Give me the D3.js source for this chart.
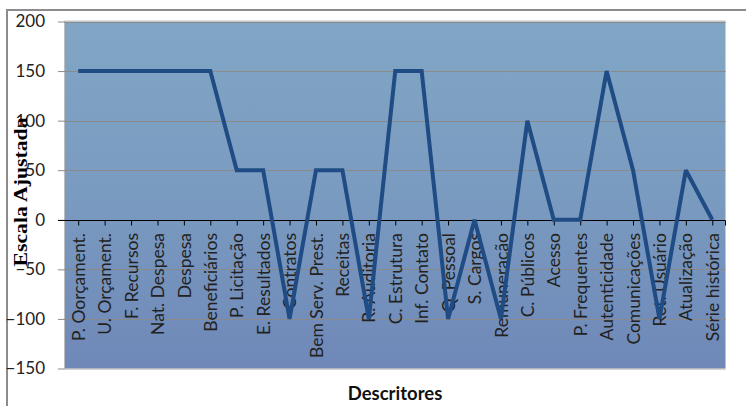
<!DOCTYPE html>
<html><head><meta charset="utf-8">
<script src="https://cdn.jsdelivr.net/npm/d3@7"></script>
<style>body{margin:0;background:#fff}svg{display:block}</style>
</head><body>
<svg id="c" width="746" height="406"></svg>
<script>
const categories = ["P. Oorçament.","U. Orçament.","F. Recursos","Nat. Despesa","Despesa","Beneficiários","P. Licitação","E. Resultados","Contratos","Bem Serv. Prest.","Receitas","R. Auditoria","C. Estrutura","Inf. Contato","Q. Pessoal","S. Cargos","Remuneração","C. Públicos","Acesso","P. Frequentes","Autenticidade","Comunicações","Ret. Usuário","Atualização","Série histórica"];
const values = [150,150,150,150,150,150,50,50,-100,50,50,-100,150,150,-100,0,-100,100,0,0,150,50,-100,50,0];
const yTicks = [-150,-100,-50,0,50,100,150,200];
const yTitle = "Escala Ajustada";
const xTitle = "Descritores";

const svg = d3.select("#c");
const L = 65, R = 725.5, T = 21.5, B = 368.5;
const x = d3.scalePoint().domain(categories).range([L, R]).padding(0.5);
const y = d3.scaleLinear().domain([-150, 200]).range([B, T]);

// outer border
svg.append("path").attr("d", `M7,406 V10 H746`).attr("fill","none").attr("stroke","#8c8c8c").attr("stroke-width",2);

const defs = svg.append("defs");
const g = defs.append("linearGradient").attr("id","bg").attr("x1",0).attr("y1",0).attr("x2",0).attr("y2",1);
g.append("stop").attr("offset","0%").attr("stop-color","#81a6c5");
g.append("stop").attr("offset","50%").attr("stop-color","#7a9bc0");
g.append("stop").attr("offset","100%").attr("stop-color","#6f88b8");

svg.append("rect").attr("x",L).attr("y",T).attr("width",R-L).attr("height",B-T).attr("fill","url(#bg)");
svg.append("path").attr("d",`M${L-0.5},${B} V${T-0.5} H${R}`).attr("fill","none").attr("stroke","#bdbdbd").attr("stroke-width",1);
svg.append("line").attr("x1",L).attr("x2",R).attr("y1",B+0.5).attr("y2",B+0.5).attr("stroke","#a8a8a8");

// gridlines
svg.append("g").selectAll("line").data(yTicks.filter(d=>d!==0 && d!==-150)).join("line")
  .attr("x1",L).attr("x2",R).attr("y1",d=>Math.round(y(d))+0.5).attr("y2",d=>Math.round(y(d))+0.5)
  .attr("stroke","#8a8a8a").attr("stroke-width",1);

// y axis
const yAxis = d3.axisLeft(y).tickValues(yTicks).tickSize(7).tickPadding(13).tickFormat(d3.format("d"));
const ya = svg.append("g").attr("transform",`translate(${L},0)`).call(yAxis);
ya.select(".domain").remove();
ya.selectAll(".tick line").attr("stroke","#8a8a8a");
ya.selectAll(".tick text").attr("font-family","Lato, 'Open Sans', sans-serif").attr("font-size",17).attr("fill","#222");

// x axis at 0
const xAxis = d3.axisBottom(x).tickSize(5).tickSizeOuter(0);
const xa = svg.append("g").attr("transform",`translate(0,${Math.round(y(0))+0.5})`).call(xAxis);
xa.select(".domain").attr("stroke","#000").attr("d",`M${L-7},0H${R}`);
xa.selectAll(".tick line").attr("stroke","#000");
xa.append("line").attr("x1",R).attr("x2",R).attr("y1",0).attr("y2",5).attr("stroke","#000");
xa.selectAll(".tick text")
  .attr("font-family","Lato, 'Open Sans', sans-serif").attr("font-size",17.5).attr("fill","#222")
  .attr("transform","rotate(-90)").attr("text-anchor","end").attr("dy","0.35em")
  .attr("x",-12.5).attr("y",0);

// line
svg.append("path").datum(values)
  .attr("d", d3.line().x((d,i)=>x(categories[i])).y(d=>y(d)))
  .attr("fill","none").attr("stroke","#1f4c84").attr("stroke-width",4).attr("stroke-linejoin","miter").attr("stroke-miterlimit",3);

// titles
svg.append("text").attr("transform",`translate(27,${192}) rotate(-90)`).attr("text-anchor","middle")
  .attr("font-family","'Liberation Serif', 'Times New Roman', serif").attr("font-weight","bold").attr("font-size",19)
  .attr("textLength",149).attr("lengthAdjust","spacingAndGlyphs")
  .text(yTitle);
svg.append("text").attr("x",395).attr("y",400).attr("text-anchor","middle")
  .attr("font-family","Lato, 'Open Sans', sans-serif").attr("font-weight","bold").attr("font-size",18.5).attr("fill","#111")
  .text(xTitle);
</script>
</body></html>
